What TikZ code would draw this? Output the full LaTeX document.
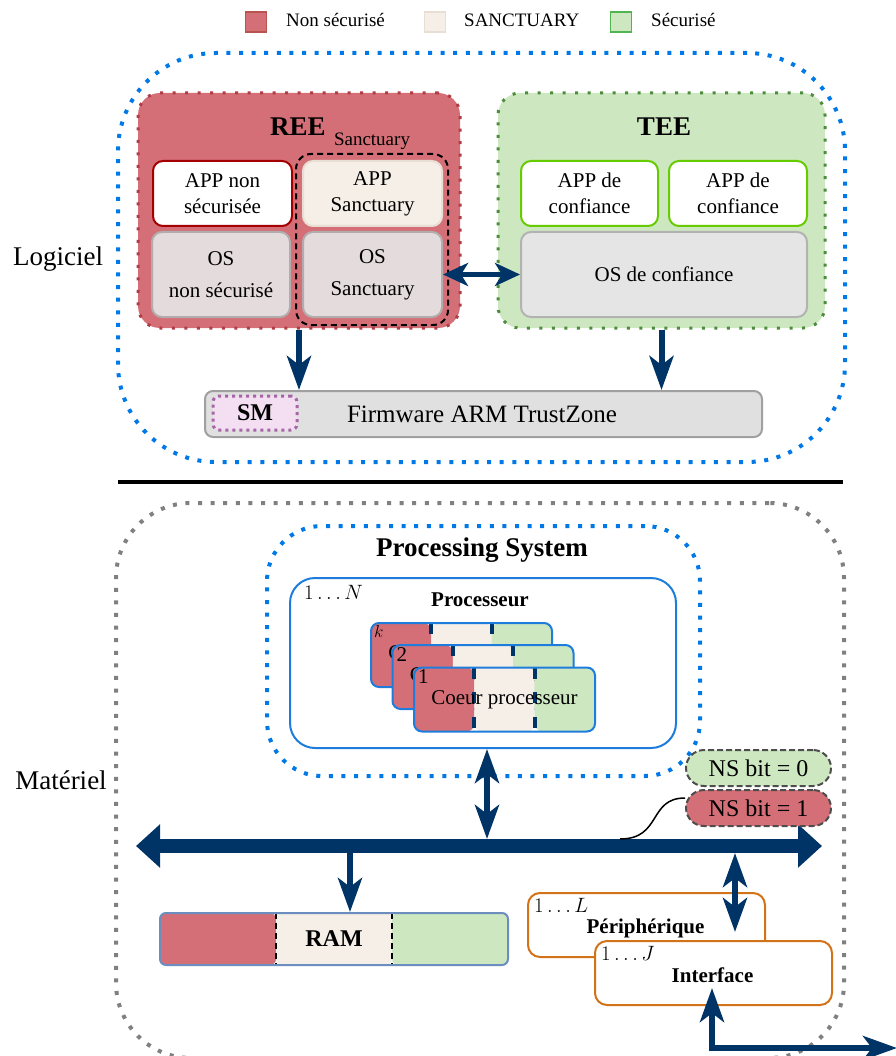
\documentclass[tikz,border=0pt]{standalone}
\usepackage{fontspec}
\setmainfont{Liberation Serif}
\usetikzlibrary{arrows.meta,calc}

\definecolor{nsred}{RGB}{212,111,119}
\definecolor{nsredborder}{RGB}{184,84,80}
\definecolor{reeborder}{RGB}{176,60,70}
\definecolor{beige}{RGB}{245,239,232}
\definecolor{beigeborder}{RGB}{232,222,211}
\definecolor{nsgreen}{RGB}{205,232,192}
\definecolor{greenborder}{RGB}{80,180,80}
\definecolor{teeborder}{RGB}{76,140,60}
\definecolor{appgreen}{RGB}{102,204,0}
\definecolor{appred}{RGB}{165,0,0}
\definecolor{osfill}{RGB}{227,219,220}
\definecolor{osborder}{RGB}{178,172,172}
\definecolor{oscfill}{RGB}{229,229,229}
\definecolor{oscborder}{RGB}{178,178,178}
\definecolor{fwfill}{RGB}{224,224,224}
\definecolor{fwborder}{RGB}{160,160,160}
\definecolor{smfill}{RGB}{244,222,242}
\definecolor{smborder}{RGB}{166,102,166}
\definecolor{bluedot}{RGB}{0,120,230}
\definecolor{graydot}{RGB}{128,128,128}
\definecolor{navy}{RGB}{0,51,102}
\definecolor{procblue}{RGB}{30,125,220}
\definecolor{ramborder}{RGB}{108,142,191}
\definecolor{orangeb}{RGB}{210,115,25}
\definecolor{nsborder}{RGB}{77,77,77}

\begin{document}
\begin{tikzpicture}[x=1pt,y=-1pt,
  every node/.style={inner sep=0pt},
  f19/.style={font=\fontsize{19}{22}\selectfont},
  f21/.style={font=\fontsize{21}{26}\selectfont, align=center},
  f21os/.style={font=\fontsize{21}{32}\selectfont, align=center},
  math21/.style={font=\fontsize{21}{24}\selectfont},
  bigdots/.style={line width=4pt, dash pattern=on 4pt off 8.6pt},
  meddots/.style={line width=3pt, dash pattern=on 3pt off 9.5pt},
  smalldots/.style={line width=3pt, dash pattern=on 3pt off 4pt},
  lgsq/.style={line width=1.5pt, minimum width=21pt, minimum height=20pt},
  inbox/.style={line width=2pt, rounded corners=10pt, minimum width=139pt, minimum height=65pt},
  osbox/.style={line width=2pt, rounded corners=10pt, minimum height=85pt},
  navyarrow/.style={draw=navy, line width=6pt, -{Stealth[length=34pt,width=24pt,inset=9pt]}},
  dblarrow/.style={draw=navy, line width=6pt, {Stealth[length=34pt,width=24pt,inset=9pt]}-{Stealth[length=34pt,width=24pt,inset=9pt]}},
  dblsmall/.style={draw=navy, line width=5pt, {Stealth[length=25pt,width=23pt,inset=7pt]}-{Stealth[length=25pt,width=23pt,inset=7pt]}},
  busarrow/.style={draw=navy, line width=14pt, {Triangle[length=24pt,width=42pt]}-{Triangle[length=24pt,width=42pt]}},
  thirds/.style={path picture={
      \coordinate (ppsw) at (path picture bounding box.south west);
      \coordinate (ppne) at (path picture bounding box.north east);
      \coordinate (ppa) at ($(ppsw)!1/3!(ppsw-|ppne)$);
      \coordinate (ppb) at ($(ppsw)!2/3!(ppsw-|ppne)$);
      \fill[nsred] (ppsw) rectangle (ppa|-ppne);
      \fill[beige] (ppa) rectangle (ppb|-ppne);
      \fill[nsgreen] (ppb) rectangle (ppne);
      \draw[#1] (ppa|-ppne) -- (ppa);
      \draw[#1] (ppb|-ppne) -- (ppb);
  }},
  card/.style={draw=procblue, line width=2pt, rounded corners=8pt, minimum width=181pt, minimum height=64pt,
      thirds={navy, line width=4pt, dash pattern=on 11pt off 13.5pt}, font=\fontsize{21}{24}\selectfont},
  nsbox/.style={draw=nsborder, line width=2pt, dash pattern=on 6pt off 3pt, rounded corners=18pt,
      minimum width=145pt, minimum height=36pt, font=\fontsize{24}{28}\selectfont},
  orangebox/.style={draw=orangeb, line width=2pt, fill=white, rounded corners=12pt, minimum width=237pt, minimum height=64pt}
]
\useasboundingbox (0,0) rectangle (895,1056);

% legend
\node[lgsq, draw=nsredborder, fill=nsred] (lgR) at (256,22) {};
\node[f19, anchor=west] (lgRt) at (286,20) {Non sécurisé};
\node[lgsq, draw=beigeborder, fill=beige] (lgB) at (435,22) {};
\node[f19, anchor=west] (lgBt) at (464,20) {SANCTUARY};
\node[lgsq, draw=greenborder, fill=nsgreen] (lgG) at (621,22) {};
\node[f19, anchor=west] (lgGt) at (651,20) {Sécurisé};

% software container
\node[draw=bluedot, bigdots, rounded corners=98pt, minimum width=727pt, minimum height=409pt] (logBox) at (481.5,257.5) {};
\node[font=\fontsize{27}{30}\selectfont] (logi) at (58,259) {Logiciel};

% REE
\node[draw=reeborder, fill=nsred, meddots, rounded corners=22pt, minimum width=322pt, minimum height=235pt] (REE) at (299,210.5) {};
\node[font=\bfseries\fontsize{27}{30}\selectfont] (REEt) at (298,127) {REE};
\node[f19] (sancT) at (372,141) {Sanctuary};
\node[draw=black, line width=2pt, dash pattern=on 6pt off 4pt, rounded corners=15pt, minimum width=152pt, minimum height=171pt] (sancBox) at (372,239.5) {};
\node[inbox, f21, draw=appred, fill=white] (appNS) at (222.5,193.5) {APP non\\sécurisée};
\node[inbox, f21, draw=beigeborder, fill=beige] (appS) at (372.5,193.5) {APP\\Sanctuary};
\node[osbox, f21os, draw=osborder, fill=osfill, minimum width=138pt] (osNS) at (221,274.5) {OS\\non sécurisé};
\node[osbox, f21os, draw=osborder, fill=osfill, minimum width=139pt] (osS) at (372.5,274.5) {OS\\Sanctuary};

% TEE
\node[draw=teeborder, fill=nsgreen, meddots, rounded corners=22pt, minimum width=327pt, minimum height=235pt] (TEE) at (661.5,210.5) {};
\node[font=\bfseries\fontsize{27}{30}\selectfont] (TEEt) at (664,127) {TEE};
\node[inbox, f21, draw=appgreen, fill=white, minimum width=137pt] (appC1) at (589.5,193.5) {APP de\\confiance};
\node[inbox, f21, draw=appgreen, fill=white, minimum width=138pt] (appC2) at (738,193.5) {APP de\\confiance};
\node[osbox, f21, draw=oscborder, fill=oscfill, minimum width=286pt] (osC) at (664,274.5) {OS de confiance};

\draw[dblsmall] (osS.east) -- (osC.west);

% firmware
\node[draw=fwborder, fill=fwfill, line width=2pt, rounded corners=8pt, minimum width=557pt, minimum height=46pt] (FW) at (483.5,414) {};
\node[font=\fontsize{25}{30}\selectfont] (FWt) at (482,414) {Firmware ARM TrustZone};
\node[draw=smborder, fill=smfill, smalldots, rounded corners=6pt, minimum width=84pt, minimum height=34pt, font=\bfseries\fontsize{24}{28}\selectfont] (SM) at (255,413) {SM};

\draw[navyarrow] (REE.south) -- (REE.south |- FW.north);
\draw[navyarrow] (TEE.south) -- (TEE.south |- FW.north);

% separator
\draw[line width=4pt] (118,482) -- (843,482);

% hardware container
\node[draw=graydot, bigdots, rounded corners=75pt, minimum width=728pt, minimum height=555pt] (hwBox) at (480,780.5) {};
\node[font=\fontsize{27}{30}\selectfont] (mat) at (61,780) {Matériel};

% processing system
\node[draw=bluedot, bigdots, rounded corners=55pt, minimum width=433pt, minimum height=250pt] (PS) at (483.5,651) {};
\node[font=\bfseries\fontsize{27}{30}\selectfont] (PSt) at (482,550) {Processing System};
\node[draw=procblue, line width=2pt, fill=white, rounded corners=25pt, minimum width=386pt, minimum height=170pt] (Proc) at (483,663) {};
\node[math21, anchor=north west] (procN) at ($(Proc.north west)+(15,8)$) {$1\ldots N$};
\node[font=\bfseries\fontsize{21}{24}\selectfont] (procT) at (480,600) {Processeur};

\node[card, label={[anchor=north west, xshift=4pt, yshift=-3pt, font=\fontsize{19}{22}\selectfont]north west:$k$}] (cardK) at (461.5,655) {Coeur processeur};
\node[card, label={[anchor=north west, xshift=5pt, yshift=-3pt, font=\fontsize{21}{24}\selectfont]north west:2}] (card2) at (483,677) {Coeur processeur};
\node[card, label={[anchor=north west, xshift=5pt, yshift=-3pt, font=\fontsize{21}{24}\selectfont]north west:1}] (card1) at (504.5,699.5) {Coeur processeur};

% bus
\coordinate (busL) at (136,846);
\coordinate (busR) at (822,846);
\draw[busarrow] (busL) -- (busR);
\draw[dblarrow] ($(Proc.south)+(4,0)$) -- ($(Proc.south |- busL)+(4,-7)$);

% NS bits
\node[nsbox, fill=nsgreen] (NS0) at (758.5,768) {NS bit = 0};
\node[nsbox, fill=nsred] (NS1) at (758.5,808) {NS bit = 1};
\coordinate (busC) at (620,839);
\draw[line width=1.5pt] (busC) .. controls (662,839) and (648,798) .. ($(NS1.west)+(0,-10)$);

% RAM
\node[draw=ramborder, line width=2pt, rounded corners=6pt, minimum width=348pt, minimum height=52pt,
      thirds={black, line width=2pt, dash pattern=on 6pt off 4pt}, font=\bfseries\fontsize{24}{28}\selectfont] (RAM) at (334,939) {RAM};
\coordinate (busRAM) at (350,853);
\draw[navyarrow] (busRAM) -- (busRAM |- RAM.north);

% peripherals
\node[orangebox] (Periph) at (646.5,925) {};
\node[math21, anchor=north west] (perN) at ($(Periph.north west)+(7,6)$) {$1\ldots L$};
\node[font=\bfseries\fontsize{21}{24}\selectfont] (perT) at ($(Periph.center)+(-1,3)$) {Périphérique};
\coordinate (busP) at (735,853);
\coordinate (pTip) at (735,932);
\draw[dblarrow] (busP) -- (pTip);

\node[orangebox] (Iface) at (713.5,973) {};
\node[math21, anchor=north west] (ifN) at ($(Iface.north west)+(7,6)$) {$1\ldots J$};
\node[font=\bfseries\fontsize{21}{24}\selectfont] (ifT) at ($(Iface.center)+(-1,2)$) {Interface};
\coordinate (ifTip) at (712,988);
\coordinate (ioEnd) at (897,1048);
\draw[dblarrow] (ifTip) |- (ioEnd);
\end{tikzpicture}
\end{document}
